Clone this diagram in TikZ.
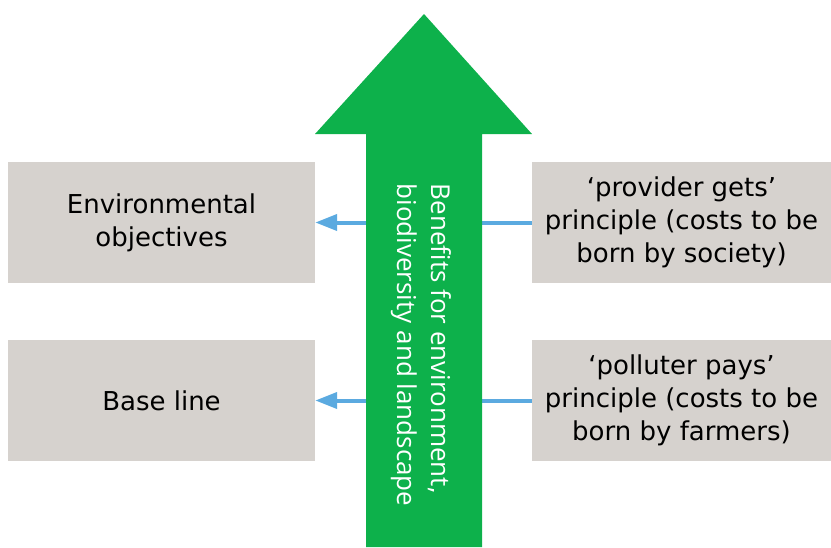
\documentclass[tikz,border=0pt]{standalone}
\usepackage{fontspec}
\setmainfont{DejaVu Sans}
\newfontfamily\arrowfont{Open Sans}
\usetikzlibrary{arrows.meta,positioning}
\definecolor{boxgray}{RGB}{214,210,206}
\definecolor{arrowgreen}{RGB}{13,177,75}
\definecolor{linkblue}{RGB}{91,170,224}

\begin{document}
\begin{tikzpicture}[x=1pt,y=-1pt]
		\tikzstyle{box}=[rectangle, fill=boxgray, minimum height=121pt, align=center, font=\fontsize{26}{33}\selectfont]
		\tikzstyle{connect}=[line width=4pt, draw=linkblue, -{Triangle[length=22pt,width=16pt]}]
		\useasboundingbox (0,0) rectangle (831,547);
		\node[box, minimum width=307pt] (objectives) at (161.5,222.5) {Environmental\\objectives};
		\node[box, minimum width=307pt] (baseline)   at (161.5,400.5) {Base line};
		\node[box, minimum width=299pt] (provider)   at (681.5,222.5) {`provider gets'\\principle (costs to be\\born by society)};
		\node[box, minimum width=299pt] (polluter)   at (681.5,400.5) {`polluter pays'\\principle (costs to be\\born by farmers)};
		
		\path 
		(provider) edge [connect] (objectives)
		
		(polluter) edge [connect] (baseline)
		;
		
		% big arrow
		\fill[arrowgreen] (366,547) -- (366,134) -- (315,134) -- (424,14) -- (532,134) -- (482,134) -- (482,547) -- cycle;
		\node[rotate=-90, align=left, text=white, font=\arrowfont\fontsize{26}{34}\selectfont] (benefits) at (421,345) {Benefits for environment,\\biodiversity and landscape};
		
\end{tikzpicture}
\end{document}
